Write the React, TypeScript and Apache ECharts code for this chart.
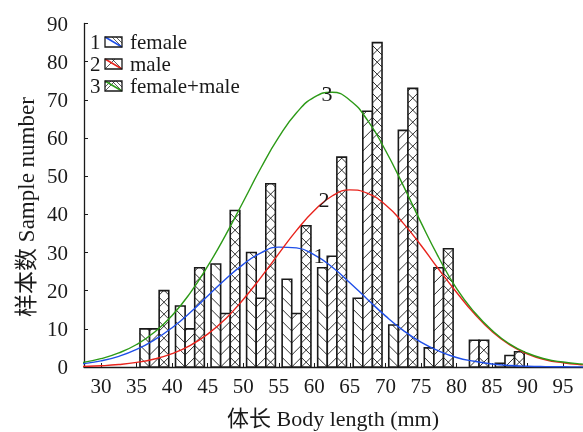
import React, { useEffect, useRef } from "react";
import * as echarts from "echarts";

// ---- data ----
const binCenters = [37.5, 42.5, 47.5, 52.5, 57.5, 62.5, 67.5, 72.5, 77.5, 82.5, 87.5];
const femaleCounts = [10, 16, 27, 30, 23, 26, 18, 11, 5, 0, 1];
const maleCounts = [10, 10, 14, 18, 14, 29, 67, 62, 26, 7, 3];
const totalCounts = [20, 26, 41, 48, 37, 55, 85, 73, 31, 7, 4];

const curveX = [25, 27.5, 30, 32.5, 35, 37.5, 40, 42.5, 45, 47.5, 50, 52.5, 55, 57.5, 60, 62.5, 65, 67.5, 70, 72.5, 75, 77.5, 80, 82.5, 85, 87.5, 90, 92.5, 95, 97.5, 100];
const femaleCurve = [0.5, 0.9, 1.6, 2.8, 4.6, 7.1, 10.3, 14.2, 18.6, 23.0, 26.9, 29.9, 31.4, 31.2, 29.4, 26.2, 22.1, 17.7, 13.4, 9.6, 6.5, 4.2, 2.5, 1.5, 0.8, 0.4, 0.2, 0.1, 0.05, 0.02, 0.01];
const maleCurve = [0.07, 0.16, 0.32, 0.64, 1.2, 2.1, 3.5, 5.6, 8.6, 12.6, 17.7, 23.5, 29.7, 35.8, 41.0, 44.8, 46.4, 45.5, 42.5, 37.7, 31.9, 25.6, 19.6, 14.0, 9.3, 5.8, 3.4, 1.9, 1.1, 0.6, 0.3];
const totalCurve = [0.7, 1.2, 2.2, 3.7, 5.9, 9.1, 13.5, 19.3, 26.4, 34.5, 43.3, 52.2, 60.2, 66.6, 70.7, 72.0, 69.9, 64.6, 56.8, 47.6, 37.9, 28.7, 20.6, 14.4, 9.6, 6.0, 3.6, 2.1, 1.3, 0.8, 0.5];

const xTicks = [30, 35, 40, 45, 50, 55, 60, 65, 70, 75, 80, 85, 90, 95];
const seriesNames = ["female", "male", "female+male"];
const seriesNumbers = ["1", "2", "3"];
const xAxisName = "体长 Body length (mm)";
const yAxisName = "样本数 Sample number";

// ---- styling ----
const FAMILY = "Liberation Serif";
const FONT = `"Liberation Serif", "Noto Sans CJK SC", serif`;
const COLORS = ["#1f4fe8", "#e8231c", "#2c9a17"];
const BAR_W = 1.35; // bar width in mm
const INK = "#1a1a1a";

type Dir = "back" | "fwd";

function hatchLines(x0: number, top: number, w: number, bottom: number, dirs: Dir[], p: number, lw = 0.9) {
  const out: any[] = [];
  const h = bottom - top;
  for (let a = bottom - w; a + w > top - p; a -= p) {
    for (const d of dirs) {
      if (d === "back") {
        const c = a - x0; // y = x + c
        const xs = Math.max(x0, top - c);
        const xe = Math.min(x0 + w, top + h - c);
        if (xe > xs) out.push({ type: "line", shape: { x1: xs, y1: xs + c, x2: xe, y2: xe + c }, style: { stroke: INK, lineWidth: lw }, silent: true });
      } else {
        const c = x0 + w + a; // y = c - x
        const xs = Math.max(x0, c - top - h);
        const xe = Math.min(x0 + w, c - top);
        if (xe > xs) out.push({ type: "line", shape: { x1: xs, y1: c - xs, x2: xe, y2: c - xe }, style: { stroke: INK, lineWidth: lw }, silent: true });
      }
    }
  }
  return out;
}

const barDirs: Dir[][] = [["back"], ["fwd"], ["back", "fwd"]];

export default function App() {
  const ref = useRef<HTMLDivElement>(null);
  useEffect(() => {
    if (!ref.current) return;
    const chart = echarts.init(ref.current, null, { renderer: "svg" });
    const barData = binCenters.map((c, i) => [c, femaleCounts[i], maleCounts[i], totalCounts[i]]);

    const renderItem = (_params: any, api: any) => {
      const center = api.value(0);
      const vals = [api.value(1), api.value(2), api.value(3)];
      const w = api.size([BAR_W, 0])[0];
      const p0 = api.coord([center, 0]);
      const cx = p0[0];
      const base = p0[1];
      const children: any[] = [];
      vals.forEach((v: number, i: number) => {
        if (!(v > 0)) return;
        const top = api.coord([center, v])[1];
        const x0 = cx - 1.5 * w + i * w;
        children.push({ type: "rect", shape: { x: x0, y: top, width: w, height: base - top }, style: { fill: "#fff" } });
        children.push(...hatchLines(x0, top, w, base, barDirs[i], 12));
        children.push({ type: "rect", shape: { x: x0, y: top, width: w, height: base - top }, style: { fill: "none", stroke: INK, lineWidth: 1.6 } });
      });
      return { type: "group", children };
    };

    const curves = [femaleCurve, maleCurve, totalCurve];

    // legend built from graphic elements
    const legendEls: any[] = [];
    const rowY = [42, 64, 86];
    const legendDirs: Dir[][] = [["back"], ["back", "fwd"], ["back", "fwd"]];
    const legendP = [4, 10, 4];
    rowY.forEach((y, i) => {
      const ix = 105, iw = 17, ih = 10;
      const top = y - ih / 2;
      legendEls.push({ type: "text", x: 90, y: y, style: { text: seriesNumbers[i], font: `21px ${FONT}`, lineHeight: 18, fill: INK, textVerticalAlign: "middle" } });
      legendEls.push({ type: "rect", shape: { x: ix, y: top, width: iw, height: ih }, style: { fill: "#fff" } });
      hatchLines(ix, top, iw, top + ih, legendDirs[i], legendP[i], 0.7).forEach((l) => legendEls.push(l));
      legendEls.push({ type: "line", shape: { x1: ix, y1: top, x2: ix + iw, y2: top + ih }, style: { stroke: COLORS[i], lineWidth: 1.5 } });
      legendEls.push({ type: "rect", shape: { x: ix, y: top, width: iw, height: ih }, style: { fill: "none", stroke: INK, lineWidth: 1.3 } });
      legendEls.push({ type: "text", x: 130, y: y, style: { text: seriesNames[i], font: `21px ${FONT}`, lineHeight: 18, fill: INK, textVerticalAlign: "middle" } });
    });

    const curveLabelPos = [[319, 255], [324, 199], [327, 93]];
    const curveLabels = curveLabelPos.map((pos, i) => ({
      type: "text",
      x: pos[0],
      y: pos[1],
      style: { text: seriesNumbers[i], font: `22px ${FONT}`, fill: INK, textAlign: "center", textVerticalAlign: "middle" },
      z: 10,
    }));

    const option: any = {
      animation: false,
      grid: { left: 84, right: 0, top: 23.5, bottom: 65 },
      xAxis: {
        type: "value",
        min: 27.6,
        max: 97.8,
        axisLine: { show: true, onZero: false, lineStyle: { color: INK, width: 1.3 } },
        axisTick: { show: true, inside: true, length: 4, customValues: xTicks, lineStyle: { color: INK } },
        axisLabel: { customValues: xTicks, fontFamily: FAMILY, fontSize: 21, color: INK, margin: 8 },
        splitLine: { show: false },
      },
      yAxis: {
        type: "value",
        min: 0,
        max: 90,
        interval: 10,
        axisLine: { show: true, lineStyle: { color: INK, width: 1.3 } },
        axisTick: { show: true, inside: true, length: 4, lineStyle: { color: INK } },
        axisLabel: { fontFamily: FAMILY, fontSize: 21, color: INK, margin: 16 },
        splitLine: { show: false },
      },
      series: [
        { type: "custom", renderItem, data: barData, encode: { x: 0, y: [1, 2, 3] }, z: 2, clip: true },
        ...curves.map((c, i) => ({
          type: "line",
          name: seriesNames[i],
          data: curveX.map((x, j) => [x, c[j]]),
          smooth: true,
          showSymbol: false,
          symbol: "none",
          clip: true,
          lineStyle: { color: COLORS[i], width: 1.4 },
          z: 3,
        })),
      ],
      graphic: [
        ...legendEls,
        ...curveLabels,
        { type: "text", x: 333, y: 418, style: { text: xAxisName, font: `22px ${FONT}`, fill: INK, textAlign: "center", textVerticalAlign: "middle" } },
        { type: "text", x: 26, y: 207, rotation: Math.PI / 2, style: { text: yAxisName, font: `23px ${FONT}`, fill: INK, textAlign: "center", textVerticalAlign: "middle" } },
      ],
    };
    chart.setOption(option);
    return () => chart.dispose();
  }, []);
  return <div ref={ref} style={{ position: "fixed", left: 0, top: 0, width: 583, height: 432 }} />;
}
